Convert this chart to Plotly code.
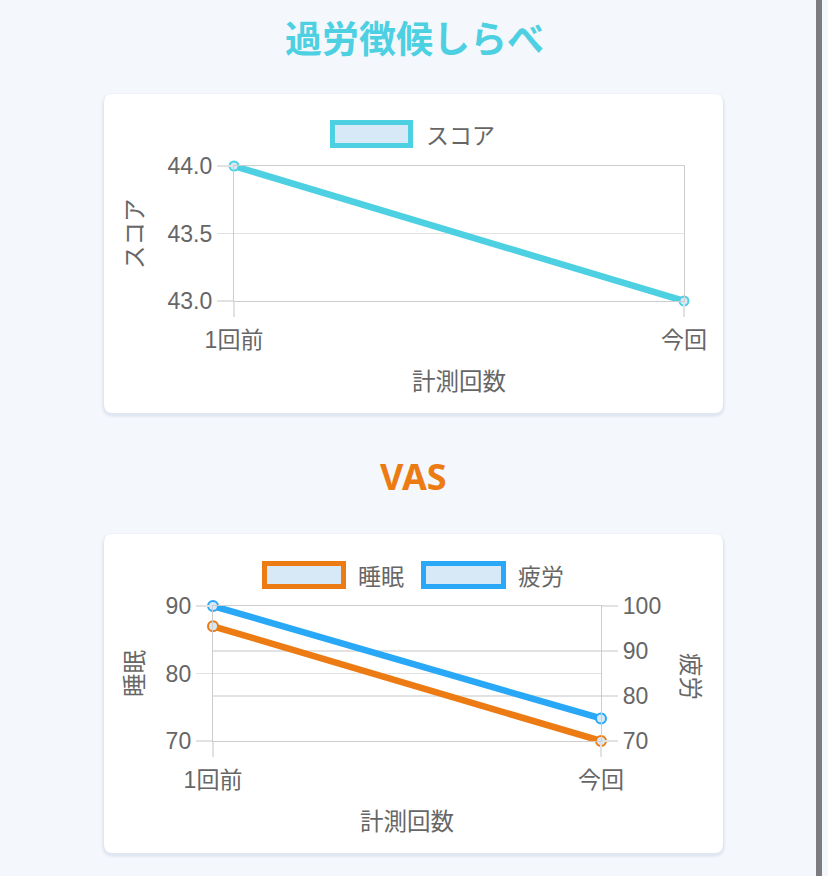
import plotly.graph_objects as go

# ---------------- data ----------------
rounds = ["1回前", "今回"]
score = [44.0, 43.0]
sleep = [87, 70]
fatigue = [100, 75]

W, H = 828, 876

CYAN = "#4dd0e1"
ORANGE = "#ec7b13"
BLUE = "#28a8f6"
FILL = "#d7e8f6"
TXT = "#666666"
GRID = "#e2e2e2"
AXL = "#cdcdcd"
BG = "#f4f7fc"
NUMFONT = "Liberation Sans, Noto Sans CJK JP, sans-serif"
JPFONT = "Noto Sans CJK JP, sans-serif"


def px(x):
    return x / W


def py(y):
    return 1 - y / H


def rrect(x0, y0, x1, y1, r):
    def P(x, y):
        return f"{px(x):.5f},{py(y):.5f}"
    return (
        f"M {P(x0 + r, y0)} L {P(x1 - r, y0)} Q {P(x1, y0)} {P(x1, y0 + r)} "
        f"L {P(x1, y1 - r)} Q {P(x1, y1)} {P(x1 - r, y1)} "
        f"L {P(x0 + r, y1)} Q {P(x0, y1)} {P(x0, y1 - r)} "
        f"L {P(x0, y0 + r)} Q {P(x0, y0)} {P(x0 + r, y0)} Z"
    )


fig = go.Figure()

fig.add_trace(go.Scatter(
    x=rounds, y=score, name="スコア", mode="lines+markers",
    line=dict(color=CYAN, width=6.5),
    marker=dict(size=9, color=FILL, line=dict(color=CYAN, width=2)),
    xaxis="x", yaxis="y", cliponaxis=False, showlegend=False,
))
fig.add_trace(go.Scatter(
    x=rounds, y=sleep, name="睡眠", mode="lines+markers",
    line=dict(color=ORANGE, width=6.5),
    marker=dict(size=10, color=FILL, line=dict(color=ORANGE, width=2)),
    xaxis="x2", yaxis="y2", cliponaxis=False, showlegend=False,
))
fig.add_trace(go.Scatter(
    x=rounds, y=fatigue, name="疲労", mode="lines+markers",
    line=dict(color=BLUE, width=6.5),
    marker=dict(size=10, color=FILL, line=dict(color=BLUE, width=2)),
    xaxis="x2", yaxis="y3", cliponaxis=False, showlegend=False,
))

tickfont = dict(family=NUMFONT, size=23, color=TXT)
common = dict(
    showgrid=True, gridcolor=GRID, gridwidth=1.2,
    showline=True, linecolor=AXL, linewidth=1.2,
    ticks="outside", tickcolor=GRID, tickwidth=1.2,
    zeroline=False, tickfont=tickfont, fixedrange=True, automargin=False,
)

fig.update_layout(
    template="none",
    width=W, height=H,
    margin=dict(l=0, r=0, t=0, b=0, pad=0, autoexpand=False),
    paper_bgcolor=BG, plot_bgcolor="rgba(0,0,0,0)",
    xaxis=dict(domain=[px(234), px(684)], anchor="y", type="category",
               range=[0, 1], ticklen=15, ticklabelstandoff=3, mirror=True, **common),
    yaxis=dict(domain=[py(301), py(166)], anchor="x", range=[43, 44],
               dtick=0.5, tickformat=".1f", ticklen=16, mirror=True, **common),
    xaxis2=dict(domain=[px(213), px(601)], anchor="y2", type="category",
                range=[0, 1], ticklen=15, ticklabelstandoff=3, mirror=True, **common),
    yaxis2=dict(domain=[py(741), py(606)], anchor="x2", range=[70, 90],
                dtick=10, ticklen=16, **common),
    yaxis3=dict(overlaying="y2", side="right", anchor="x2", range=[70, 100],
                dtick=10, ticklen=16, **common),
)

shapes = []
# scrollbar-like strip on right edge
shapes.append(dict(type="rect", xref="paper", yref="paper",
                   x0=px(816), x1=px(822), y0=0, y1=1,
                   fillcolor="#7c7c80", line=dict(width=0), layer="below"))
# cards with soft shadow
for (y0, y1) in [(94, 413), (534, 853)]:
    for i, a in enumerate([0.025, 0.03, 0.04]):
        g = 3 - i
        shapes.append(dict(type="path", xref="paper", yref="paper",
                           path=rrect(104 - g, y0 - g + 2, 723 + g, y1 + g + 2, 10 + g),
                           fillcolor=f"rgba(60,80,120,{a})", line=dict(width=0),
                           layer="below"))
    shapes.append(dict(type="path", xref="paper", yref="paper",
                       path=rrect(104, y0, 723, y1, 9),
                       fillcolor="#ffffff", line=dict(width=0), layer="below"))

# legend boxes
legend_items = [
    (330, 120, 413, 148, CYAN, "スコア", 424, 134),
    (262, 561, 346, 589, ORANGE, "睡眠", 356, 575),
    (421, 561, 506, 589, BLUE, "疲労", 516, 575),
]
annotations = []
for (x0, y0, x1, y1, col, lab, tx, ty) in legend_items:
    shapes.append(dict(type="rect", xref="paper", yref="paper",
                       x0=px(x0 + 2.5), x1=px(x1 - 2.5), y0=py(y1 - 2.5), y1=py(y0 + 2.5),
                       fillcolor=FILL, line=dict(color=col, width=5), layer="above"))
    annotations.append(dict(text=lab, x=px(tx), y=py(ty), xref="paper", yref="paper",
                            xanchor="left", yanchor="middle", showarrow=False,
                            font=dict(family=JPFONT, size=23, color=TXT)))

# titles
annotations.append(dict(text="<b>過労徴候しらべ</b>", x=px(414), y=py(37), xref="paper",
                        yref="paper", xanchor="center", yanchor="middle", showarrow=False,
                        font=dict(family=JPFONT, size=37, color=CYAN)))
annotations.append(dict(text="<b>VAS</b>", x=px(413), y=py(477), xref="paper",
                        yref="paper", xanchor="center", yanchor="middle", showarrow=False,
                        font=dict(family="Noto Sans, " + JPFONT, size=36, color=ORANGE)))

# axis titles
axt = dict(family=JPFONT, size=23.5, color=TXT)
annotations += [
    dict(text="計測回数", x=px(459), y=py(380), xref="paper", yref="paper",
         xanchor="center", yanchor="middle", showarrow=False, font=axt),
    dict(text="スコア", x=px(133), y=py(234), xref="paper", yref="paper",
         xanchor="center", yanchor="middle", showarrow=False, font=axt, textangle=-90),
    dict(text="計測回数", x=px(407), y=py(820), xref="paper", yref="paper",
         xanchor="center", yanchor="middle", showarrow=False, font=axt),
    dict(text="睡眠", x=px(133), y=py(673), xref="paper", yref="paper",
         xanchor="center", yanchor="middle", showarrow=False, font=axt, textangle=-90),
    dict(text="疲労", x=px(692), y=py(676), xref="paper", yref="paper",
         xanchor="center", yanchor="middle", showarrow=False, font=axt, textangle=90),
]

fig.update_layout(shapes=shapes, annotations=annotations)

fig.write_html(
    "out.html",
    config={"displayModeBar": False, "staticPlot": True},
    post_script="document.body.style.margin='0';document.body.style.overflow='hidden';",
)
